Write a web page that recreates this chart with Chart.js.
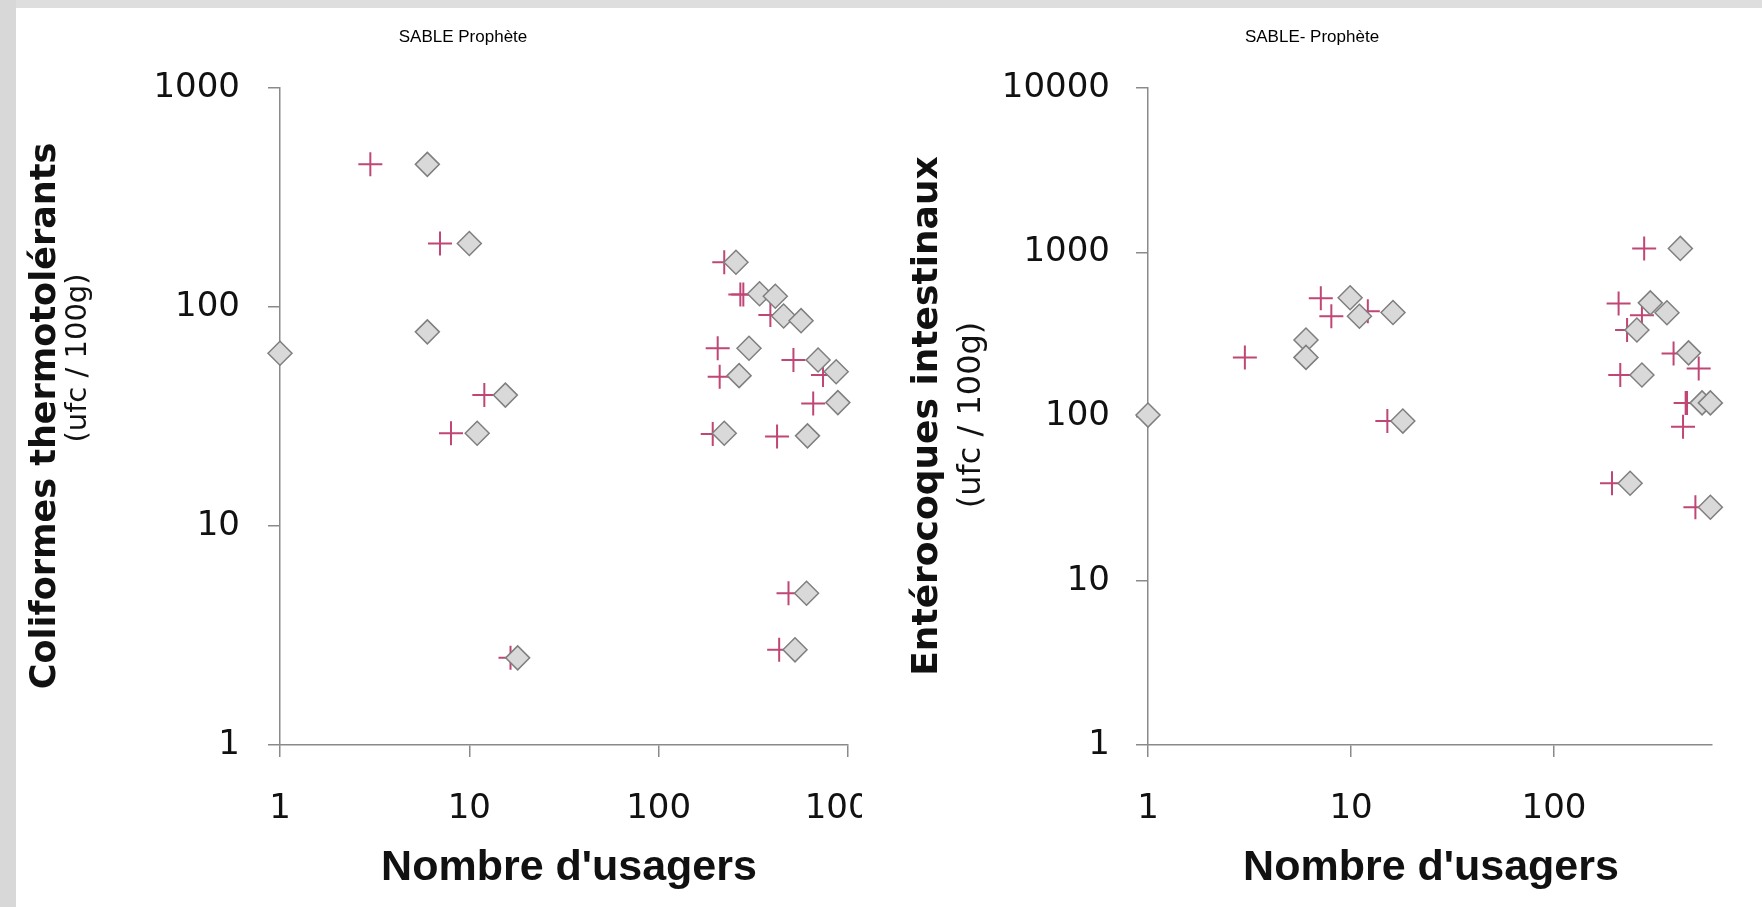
<!DOCTYPE html>
<html><head><meta charset="utf-8">
<script src="https://cdn.jsdelivr.net/npm/chart.js@4"></script>
<style>
html,body{margin:0;padding:0;background:#fff;}
body{width:1762px;height:907px;position:relative;overflow:hidden;}
#c1{position:absolute;left:0;top:0;}
#c2{position:absolute;left:862px;top:0;}
.stripL{position:absolute;left:0;top:0;width:16px;height:907px;background:#d8d8d8;}
.stripT{position:absolute;left:0;top:0;width:1762px;height:8px;background:#dedede;}
</style></head>
<body>
<canvas id="c1" width="862" height="907"></canvas>
<canvas id="c2" width="900" height="907"></canvas>
<div class="stripT"></div><div class="stripL"></div>
<script>
// ---- Data: Coliformes thermotolérants (left chart) ----
const cfDiamondX = [6, 10, 6, 1, 15.5, 11, 18, 256, 341, 413, 457, 565, 300, 695, 866, 266, 884, 222, 611, 604, 525];
const cfDiamondY = [448, 195, 77, 61.5, 39.6, 26.5, 2.5, 160, 115, 112, 91, 86.6, 64.8, 57.3, 50.6, 48.6, 36.6, 26.5, 25.8, 4.93, 2.72];
const cfPlusX = [3, 7, 12, 8, 16.5, 222, 270, 280, 389, 205, 515, 738, 210, 655, 193, 422, 485, 433];
const cfPlusY = [448, 195, 39.6, 26.5, 2.5, 160, 114, 114, 92, 64.8, 57.3, 48.9, 48, 36.3, 26.3, 25.6, 4.93, 2.72];

// ---- Data: Entérocoques intestinaux (right chart) ----
const enDiamondX = [1, 6, 6, 9.9, 11, 16.1, 18, 419, 298, 360, 256, 460, 271, 536, 589, 237, 589];
const enDiamondY = [102, 292, 229, 528, 408, 430, 93.8, 1055, 492, 428, 336, 244, 179, 121, 121, 39.2, 28];
const enPlusX = [3, 7.1, 8, 12.1, 15.1, 278, 208, 271, 229, 388, 516, 212, 445, 452, 432, 193, 497];
const enPlusY = [229, 524, 408, 438, 93.8, 1055, 488, 414, 336, 242, 196, 179, 121, 121, 86.6, 39.2, 28];

// ---- Tick labels ----
const cfXTicks = [1, 10, 100, 1000];
const cfYTicks = [1, 10, 100, 1000];
const enXTicks = [1, 10, 100];
const enYTicks = [1, 10, 100, 1000, 10000];

// ---- Texts ----
const cfTitle = "SABLE Prophète";
const enTitle = "SABLE- Prophète";
const xTitle = "Nombre d'usagers";
const cfYTitle = "Coliformes thermotolérants";
const enYTitle = "Entérocoques intestinaux";
const unitTitle = "(ufc / 100g)";

function pts(xs, ys) { return xs.map((v, i) => ({x: v, y: ys[i]})); }

const textPlugin = {
  id: 'texts',
  afterDraw(chart, args, opts) {
    const ctx = chart.ctx;
    (opts.items || []).forEach(t => {
      ctx.save();
      ctx.fillStyle = t.color || '#111';
      ctx.font = t.font;
      ctx.translate(t.x, t.y);
      if (t.rot) ctx.rotate(-Math.PI / 2);
      ctx.textAlign = 'center';
      ctx.textBaseline = t.baseline || 'alphabetic';
      ctx.fillText(t.text, 0, 0);
      ctx.restore();
    });
  }
};

const AX = '#8a8a8a';

function makeChart(canvas, dX, dY, pX, pY, xTicks, yTicks, xMax, yMax, area, yPad, items) {
  const W = canvas.width, H = canvas.height;
  const tickFont = {family: 'DejaVu Sans', size: 34};
  return new Chart(canvas, {
    type: 'scatter',
    data: {
      datasets: [
        {data: pts(dX, dY), pointStyle: 'rectRot', radius: 12, pointRadius: 12, pointHoverRadius: 12, clip: false,
         backgroundColor: '#d9d9d9', borderColor: '#7f7f7f', borderWidth: 1.5},
        {data: pts(pX, pY), pointStyle: 'cross', radius: 12, pointRadius: 12, pointHoverRadius: 12, clip: false,
         backgroundColor: '#bf4675', borderColor: '#bf4675', borderWidth: 2}
      ]
    },
    options: {
      responsive: false, animation: false, devicePixelRatio: 1,
      layout: {padding: {left: 0, top: area.top, right: W - area.right, bottom: 0}},
      plugins: {legend: {display: false}, tooltip: {enabled: false}, texts: {items}},
      events: [],
      scales: {
        x: {
          type: 'logarithmic', min: 1, max: xMax,
          afterBuildTicks: s => { s.ticks = xTicks.map(v => ({value: v})); },
          afterFit: s => { s.height = H - area.bottom; s.paddingLeft = 0; s.paddingRight = 0; s.paddingTop = 0; s.paddingBottom = 0; },
          ticks: {autoSkip: false, maxRotation: 0, minRotation: 0, padding: 32, font: tickFont, color: '#111', callback: v => String(v)},
          grid: {display: true, drawOnChartArea: false, drawTicks: true, tickLength: 12, color: AX, lineWidth: 1.5},
          border: {display: true, color: AX, width: 1.5}
        },
        y: {
          type: 'logarithmic', min: 1, max: yMax,
          afterBuildTicks: s => { s.ticks = yTicks.map(v => ({value: v})); },
          afterFit: s => { s.width = area.left; s.paddingLeft = 0; s.paddingRight = 0; s.paddingTop = 0; s.paddingBottom = 0; },
          ticks: {autoSkip: false, padding: yPad, font: tickFont, color: '#111', callback: v => String(v)},
          grid: {display: true, drawOnChartArea: false, drawTicks: true, tickLength: 12, color: AX, lineWidth: 1.5},
          border: {display: true, color: AX, width: 1.5}
        }
      }
    },
    plugins: [textPlugin]
  });
}

makeChart(document.getElementById('c1'), cfDiamondX, cfDiamondY, cfPlusX, cfPlusY, cfXTicks, cfYTicks, 1000, 1000,
  {left: 280, right: 857, top: 88, bottom: 745}, 28, [
    {text: cfTitle, x: 463, y: 37, font: '17px "Liberation Sans"', baseline: 'middle', color: '#000'},
    {text: xTitle, x: 569, y: 880, font: 'bold 43px "Liberation Sans"'},
    {text: cfYTitle, x: 55, y: 416, rot: true, font: 'bold 35px "DejaVu Sans"'},
    {text: unitTitle, x: 86, y: 358, rot: true, font: '29px "DejaVu Sans"'}
  ]);

makeChart(document.getElementById('c2'), enDiamondX, enDiamondY, enPlusX, enPlusY, enXTicks, enYTicks, 600, 10000,
  {left: 286, right: 850, top: 88, bottom: 745}, 26, [
    {text: enTitle, x: 450, y: 37, font: '17px "Liberation Sans"', baseline: 'middle', color: '#000'},
    {text: xTitle, x: 569, y: 880, font: 'bold 43px "Liberation Sans"'},
    {text: enYTitle, x: 75, y: 416, rot: true, font: 'bold 36px "DejaVu Sans"'},
    {text: unitTitle, x: 118, y: 415, rot: true, font: '32px "DejaVu Sans"'}
  ]);
</script>
</body></html>
